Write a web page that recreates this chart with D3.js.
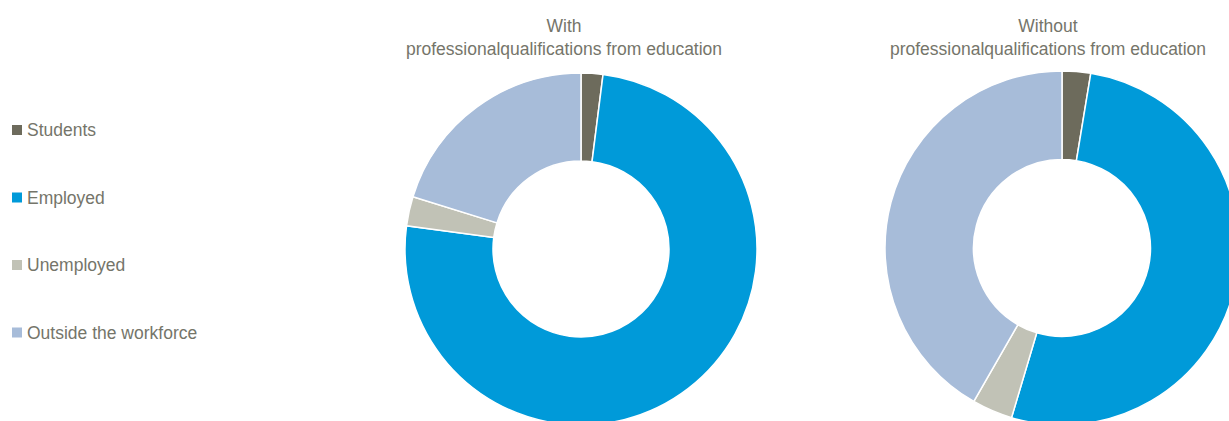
<!DOCTYPE html>
<html>
<head>
<meta charset="utf-8">
<script src="https://cdn.jsdelivr.net/npm/d3@7"></script>
<style>
  html, body { margin: 0; padding: 0; background: #fff; }
  svg { display: block; }
  text { font-family: "Liberation Sans", Arial, sans-serif; fill: #75756a; }
</style>
</head>
<body>
<svg id="chart" width="1229" height="421"></svg>
<script>
// categories and colours
var categories = ['Students', 'Employed', 'Unemployed', 'Outside the workforce'];
var colors = ['#6d6b5c', '#009ad9', '#c1c2b6', '#a7bcd9'];

// shares (%)
var withQual = [2.0, 75.1, 2.7, 20.2];
var withoutQual = [2.6, 52.0, 3.7, 41.7];

var titles = [
  ['With', 'professionalqualifications from education'],
  ['Without', 'professionalqualifications from education']
];

var svg = d3.select('#chart');

// legend
var legend = svg.append('g');
categories.forEach(function(c, i) {
  var y = 136 + i * 67.5;
  legend.append('rect')
    .attr('x', 12).attr('y', y - 11)
    .attr('width', 10).attr('height', 10)
    .attr('fill', colors[i]);
  legend.append('text')
    .attr('x', 27).attr('y', y)
    .style('font-size', '17.5px')
    .text(c);
});

var pie = d3.pie().sort(null).value(function(d) { return d; });

function donut(data, cx, cy, r, title, tx) {
  var arc = d3.arc().innerRadius(r * 0.5).outerRadius(r);
  var g = svg.append('g').attr('transform', 'translate(' + cx + ',' + cy + ')');
  g.selectAll('path')
    .data(pie(data))
    .enter().append('path')
    .attr('d', arc)
    .attr('fill', function(d, i) { return colors[i]; })
    .attr('stroke', '#fff')
    .attr('stroke-width', 1.5);

  var t = svg.append('text')
    .attr('text-anchor', 'middle')
    .style('font-size', '17.5px');
  title.forEach(function(line, i) {
    t.append('tspan').attr('x', tx).attr('y', 32 + i * 23).text(line);
  });
}

donut(withQual, 581, 249, 176, titles[0], 564);
donut(withoutQual, 1062, 248, 177, titles[1], 1048);
</script>
</body>
</html>
